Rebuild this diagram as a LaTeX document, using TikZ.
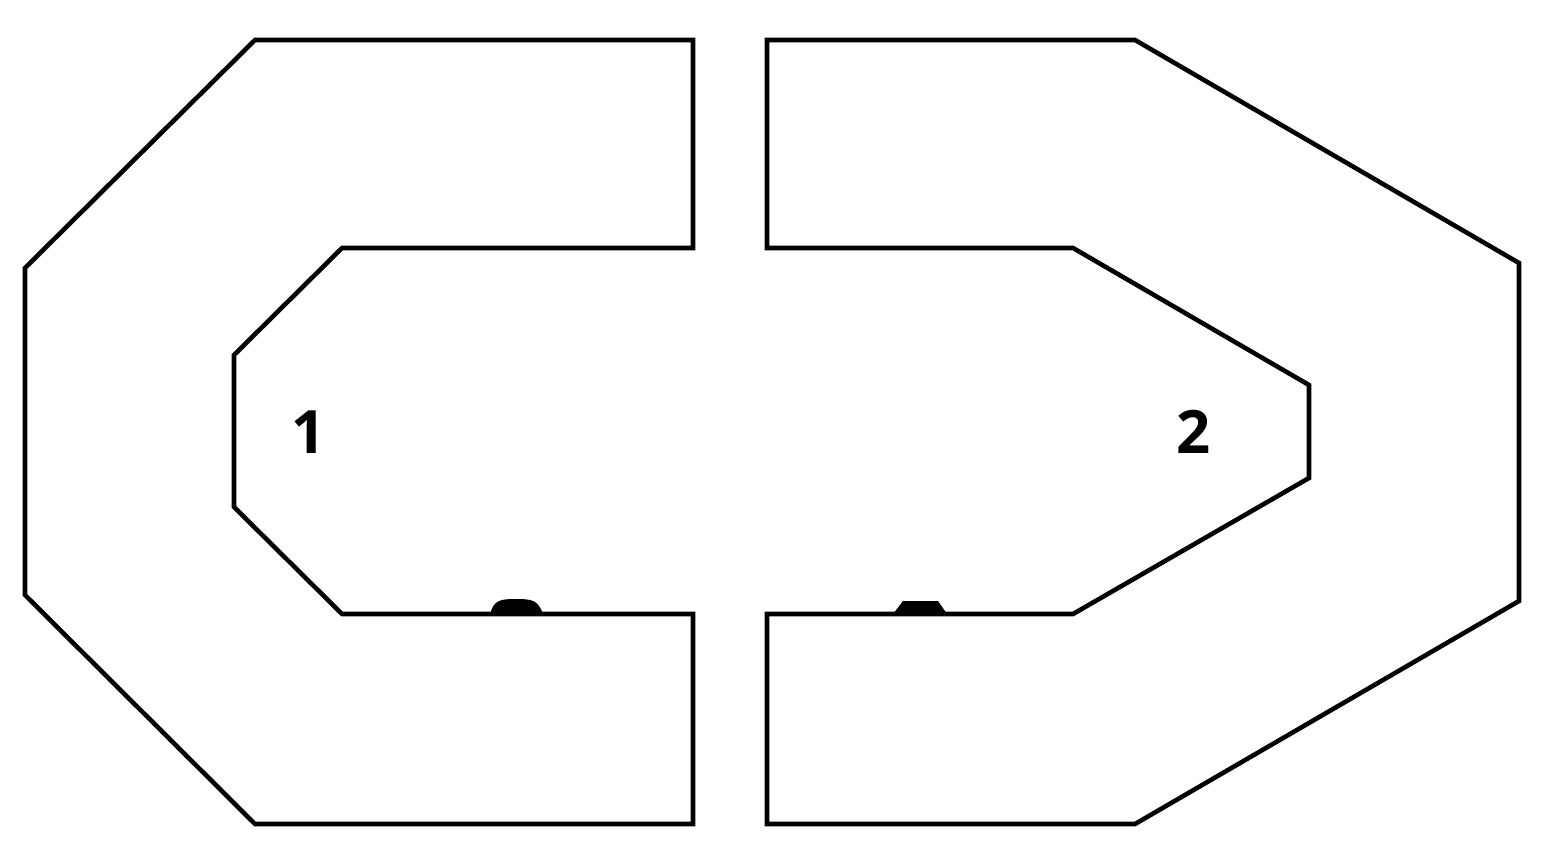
\documentclass[tikz,border=0pt]{standalone}
\usepackage{fontspec}
\setmainfont{Open Sans}
\begin{document}
\begin{tikzpicture}[x=0.01cm,y=-0.01cm,
  wall/.style={draw=black,line width=1.3pt,line join=miter},
  bump/.style={fill=black,draw=none},
  lbl/.style={font=\fontsize{17}{20}\selectfont\bfseries,inner sep=0pt}]
\useasboundingbox (0,0) rectangle (1543,861);
\draw[wall] (693,40) -- (255,40) -- (25,268) -- (25,595) -- (255,824) -- (693,824) -- (693,614) -- (342,614) -- (234,507) -- (234,355) -- (342,248) -- (693,248) -- cycle;
\draw[wall] (767,40) -- (1135,40) -- (1519,263) -- (1519,601) -- (1135,824) -- (767,824) -- (767,614) -- (1073,614) -- (1309,478) -- (1309,385) -- (1073,248) -- (767,248) -- cycle;
\fill[bump] (490,614) .. controls (494,600) and (500,599) .. (516,599) .. controls (532,599) and (538,600) .. (543,614) -- cycle;
\fill[bump] (893,614) -- (903,601) -- (938,601) -- (947,614) -- cycle;
\node[lbl] (one) at (309,432) {1};
\node[lbl] (two) at (1194,432) {2};
\end{tikzpicture}
\end{document}
